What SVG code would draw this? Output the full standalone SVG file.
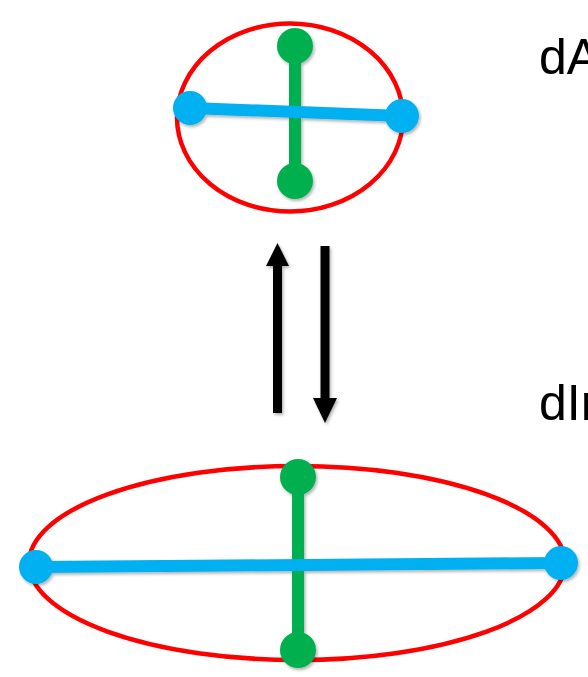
<svg xmlns="http://www.w3.org/2000/svg" width="588" height="677" viewBox="0 0 588 677">
  <defs>
    <filter id="shadow" x="-20%" y="-20%" width="140%" height="140%">
      <feDropShadow dx="1.5" dy="2" stdDeviation="1.5" flood-color="#000" flood-opacity="0.3"/>
    </filter>
  </defs>
  <style>
    .outline { fill: none; stroke: #FF0000; stroke-width: 4.5; }
    .axis-g { stroke: #00B050; stroke-width: 12; stroke-linecap: butt; }
    .axis-b { stroke: #00B0F0; stroke-width: 12; stroke-linecap: butt; }
    .dot-g { fill: #00B050; }
    .dot-b { fill: #00B0F0; }
    .arrow { fill: #000; }
    .label { font-family: "Liberation Sans", Arial, sans-serif; font-size: 50px; fill: #000; }
  </style>

  <!-- compact cell -->
  <g id="top-cell">
    <ellipse class="outline" cx="290" cy="117.5" rx="113" ry="94"/>
    <g filter="url(#shadow)">
      <line class="axis-g" x1="295" y1="46" x2="295" y2="181"/>
      <circle class="dot-g" cx="295" cy="46" r="18"/>
      <circle class="dot-g" cx="295" cy="181" r="18"/>
      <line class="axis-b" x1="190" y1="108" x2="402" y2="116"/>
      <circle class="dot-b" cx="190" cy="108" r="17"/>
      <circle class="dot-b" cx="402" cy="116" r="17"/>
    </g>
  </g>

  <!-- elongated cell -->
  <g id="bottom-cell">
    <ellipse class="outline" cx="297" cy="563" rx="268" ry="97"/>
    <g filter="url(#shadow)">
      <line class="axis-g" x1="298" y1="477" x2="298" y2="650"/>
      <circle class="dot-g" cx="298" cy="477" r="18"/>
      <circle class="dot-g" cx="298" cy="650" r="18"/>
      <line class="axis-b" x1="36" y1="567" x2="561" y2="563"/>
      <circle class="dot-b" cx="36" cy="567" r="17"/>
      <circle class="dot-b" cx="561" cy="563" r="17"/>
    </g>
  </g>

  <g id="label-top">
    <text class="label" x="539" y="74">dA</text>
  </g>
  <g id="label-bottom">
    <text class="label" x="539" y="420">dIn</text>
  </g>

  <!-- transition arrows -->
  <g id="connectors" filter="url(#shadow)">
    <rect class="arrow" x="273" y="264" width="9" height="149"/>
    <polygon class="arrow" points="266,266 289,266 277.5,243"/>
    <rect class="arrow" x="320.5" y="246" width="9" height="154"/>
    <polygon class="arrow" points="313,398 337,398 325,423"/>
  </g>
</svg>
